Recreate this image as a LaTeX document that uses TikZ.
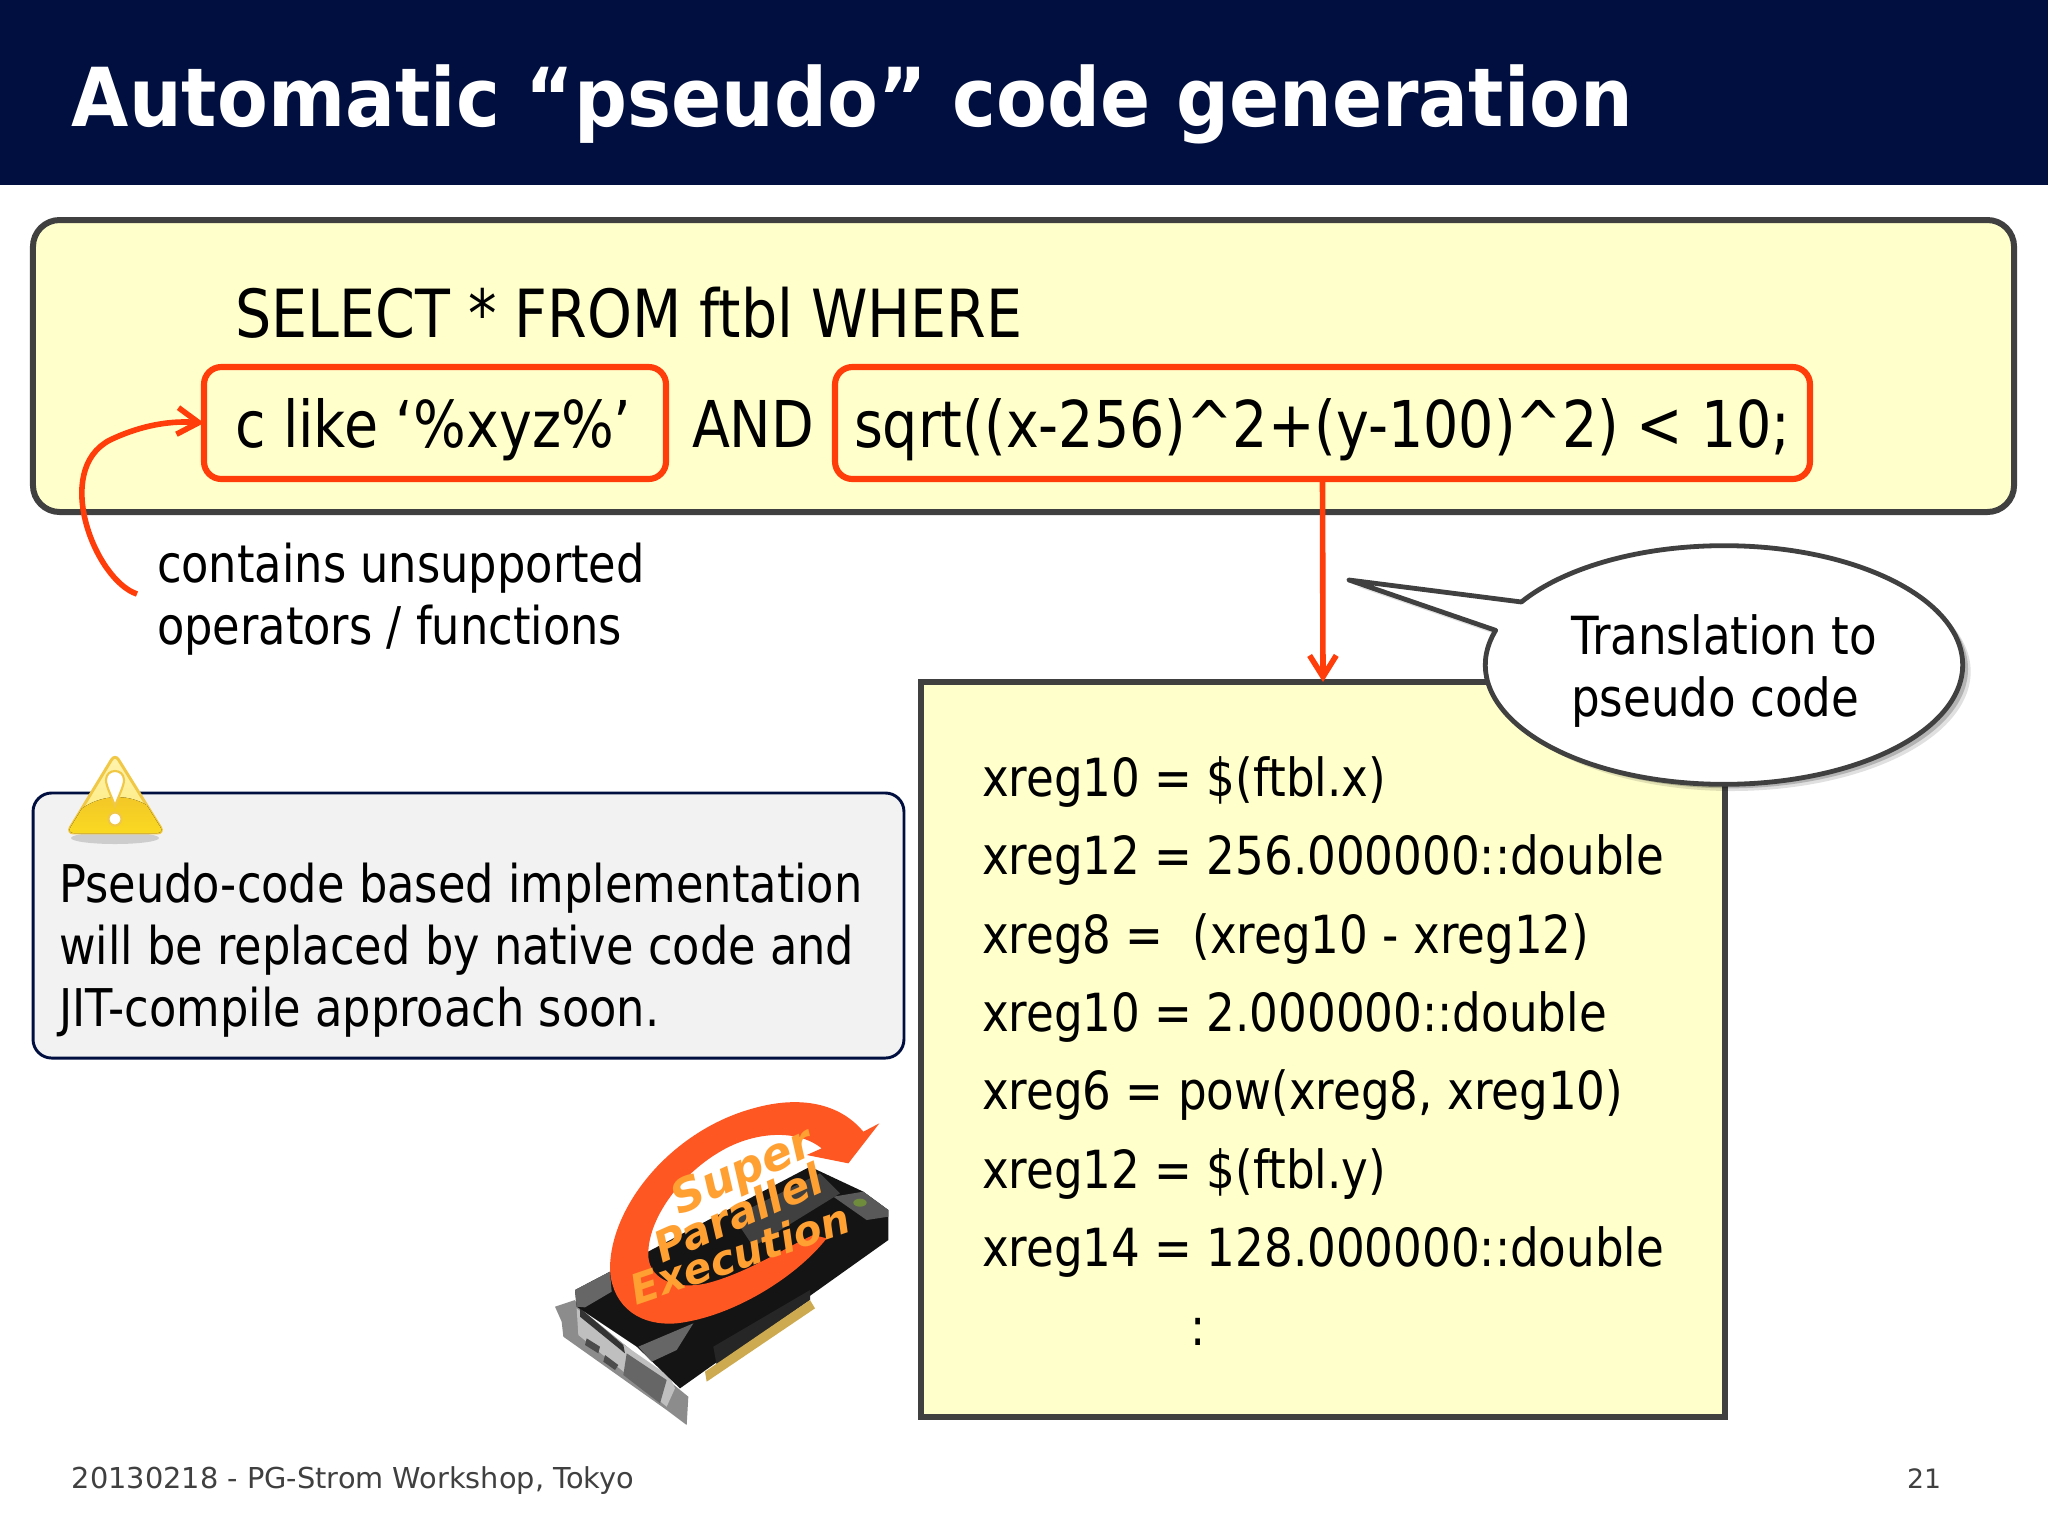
\documentclass[tikz,border=0pt]{standalone}
\usepackage{fontspec}
\setmainfont{DejaVu Sans}[FakeStretch=0.86]
\newfontfamily\widefont{DejaVu Sans}
\newfontfamily\titlefont{DejaVu Sans}[FakeStretch=0.91]
\usetikzlibrary{arrows.meta,shapes.callouts,shadows,calc}
\definecolor{navy}{HTML}{000F3F}
\definecolor{paper}{HTML}{FFFFCC}
\definecolor{edge}{HTML}{404040}
\definecolor{hot}{HTML}{FF3D0A}
\definecolor{swirl}{HTML}{FF5722}
\definecolor{swirltext}{HTML}{FFA033}
\definecolor{warnedge}{HTML}{F0C846}
\definecolor{warntop}{HTML}{FFF3B0}
\definecolor{warnbot}{HTML}{FBDD20}
\definecolor{warnmid}{HTML}{F0C02A}
\definecolor{gold}{HTML}{CDAA50}
\definecolor{logo}{HTML}{6E8C3C}
\newcommand{\fs}[2]{\fontsize{#1}{#2}\selectfont}
\tikzset{
  txt/.style={inner sep=0pt,outer sep=0pt,anchor=base west,align=left,text=black},
  sqltxt/.style={txt,font=\fs{24.2}{29}},
  midtxt/.style={txt,font=\fs{19.5}{23.1}},
  codetxt/.style={txt,font=\fs{19.7}{29.4}},
  hotbox/.style={draw=hot,line width=2.3pt,rounded corners=6.5pt,inner sep=0pt,outer sep=0pt,minimum height=42pt},
  hotline/.style={draw=hot,line width=2.1pt,-{Straight Barb[length=8pt,width=10pt,line width=2.1pt]}},
  gputxt/.style={inner sep=0pt,text=swirltext}
}
\begin{document}
\begin{tikzpicture}[x=0.375pt,y=-0.375pt]
\useasboundingbox (0,0) rectangle (2048,1536);
\fill[white] (0,0) rectangle (2048,1536);
% header
\fill[navy] (0,0) rectangle (2048,185);
\node[txt,text=white,font=\titlefont\bfseries\fs{30.5}{38}] (title) at (72,126) {Automatic “pseudo” code generation};
% SQL box
\node[draw=edge,fill=paper,line width=2.25pt,rounded corners=10pt,minimum width=742.9pt,minimum height=109.5pt,inner sep=0pt,outer sep=0pt] (sqlbox) at (1023.5,366) {};
\node[sqltxt,font=\fs{24.9}{29}] (sqlhead) at (235,337) {SELECT * FROM ftbl WHERE};
\node[hotbox,minimum width=173.25pt] (cbox) at (435,423) {};
\node[hotbox,minimum width=365.6pt] (exprbox) at (1322.5,423) {};
\node[sqltxt] (ctext) at (235,447) {c like ‘\%xyz\%’};
\node[sqltxt] (andtext) at (692,447) {AND};
\node[sqltxt] (exprtext) at (854,447) {sqrt((x-256)\string^2+(y-100)\string^2) < 10;};
% unsupported note
\node[midtxt] (unsup) at (157,644) {contains unsupported\\operators / functions};
\coordinate (unsupstart) at (137,594);
\draw[hotline] (unsupstart) .. controls (95,580) and (52,470) .. (110,440) .. controls (135,428) and (165,420) .. (cbox.west);
% code box
\node[draw=edge,fill=paper,line width=2.25pt,minimum width=301.5pt,minimum height=275.6pt,inner sep=0pt,outer sep=0pt] (codebox) at (1323,1049.5) {};
\draw[hotline] (exprbox.south) -- (codebox.north);
\node[codetxt] (code) at (982,1345) {xreg10 = \$(ftbl.x)\\xreg12 = 256.000000::double\\xreg8 = \ (xreg10 - xreg12)\\xreg10 = 2.000000::double\\xreg6 = pow(xreg8, xreg10)\\xreg12 = \$(ftbl.y)\\xreg14 = 128.000000::double\\\hspace*{78pt}:};
% callout
\node[ellipse callout,draw=edge,fill=white,line width=1.8pt,line join=round,minimum width=179pt,minimum height=89.5pt,inner sep=0pt,outer sep=0pt,
  callout absolute pointer={(1349,580)},callout pointer arc=15,
  general shadow={shadow xshift=3pt,shadow yshift=-2.5pt,fill=black,opacity=.12},
  general shadow={shadow xshift=2pt,shadow yshift=-1.5pt,fill=black,opacity=.2}] (callout) at (1724,665) {};
\node[midtxt,font=\fs{19.7}{23.1}] (callouttext) at (1571,716) {Translation to\\pseudo code};
% warning note
\node[draw=navy,fill=black!5,line width=1.1pt,rounded corners=7pt,minimum width=326.6pt,minimum height=99.4pt,inner sep=0pt,outer sep=0pt] (notebox) at (468.5,925.5) {};
\node[midtxt] (notetext) at (59,1026) {Pseudo-code based implementation\\will be replaced by native code and\\JIT-compile approach soon.};
% warning icon
\fill[black,opacity=.15] (115,838) ellipse (44 and 6);
\draw[draw=warnedge,line width=1.1pt,rounded corners=2.5pt,top color=warntop,bottom color=warntop!60!warnbot] (115,754) -- (164,833) -- (67,833) -- cycle;
\begin{scope}
\clip[rounded corners=2.5pt] (115,754) -- (164,833) -- (67,833) -- cycle;
\fill[top color=warnmid,bottom color=warnbot] (66,826) .. controls (80,800) and (125,782) .. (160,815) -- (170,840) -- (60,840) -- cycle;
\end{scope}
\filldraw[fill=white,draw=warnedge,line width=.8pt] (115,806) .. controls (111,795) and (106,786) .. (106,780) .. controls (106,768) and (124,768) .. (124,780) .. controls (124,786) and (119,795) .. (115,806) -- cycle;
\filldraw[fill=white,draw=warnedge,line width=.8pt] (115,819) circle (6.5);
% GPU picture
\begin{scope}[shift={(520,1060)},x=0.125pt,y=-0.125pt]
\fill[black!45] (105,740) -- (165,720) -- (180,745) -- (505,1010) -- (500,1095) -- (440,1050) -- (130,830) -- (125,785) -- cycle;
\fill[black!25] (170,745) -- (320,860) -- (450,950) -- (465,985) -- (440,1040) -- (175,825) -- cycle;
\fill[black!70] (200,835) -- (240,860) -- (235,880) -- (195,855) -- cycle;
\fill[black!70] (255,885) -- (295,915) -- (285,930) -- (250,905) -- cycle;
\fill[black!60] (320,880) -- (440,960) -- (420,1030) -- (310,945) -- cycle;
\fill[black!80] (180,745) -- (310,855) -- (315,880) -- (180,770) -- cycle;
\fill[black!92] (165,690) -- (870,320) -- (1030,395) -- (1105,450) -- (1105,540) -- (480,985) -- (350,860) -- (170,740) -- cycle;
\fill[black!60] (165,690) -- (270,635) -- (275,695) -- (195,742) -- (170,740) -- cycle;
\fill[black!60] (355,860) -- (520,790) -- (470,870) -- (395,905) -- cycle;
\fill[black!65] (940,410) -- (1030,395) -- (1105,450) -- (1105,470) -- (1040,480) -- cycle;
\fill[black!75] (640,470) -- (900,340) -- (960,400) -- (700,560) -- cycle;
\fill[black!85] (580,860) -- (870,690) -- (870,720) -- (590,915) -- cycle;
\fill[gold] (555,935) -- (870,720) -- (885,745) -- (560,965) -- cycle;
\fill[logo] (1020,428) ellipse (20 and 12);
\fill[swirl] (1078,190) -- (985,310) -- (860,285) -- (905,265) .. controls (830,205) and (700,215) .. (600,275) .. controls (480,345) and (380,480) .. (385,590) .. controls (390,660) and (470,690) .. (560,670) .. controls (680,640) and (800,560) .. (880,525) -- (920,535) .. controls (830,650) and (640,770) .. (470,790) .. controls (340,800) and (270,720) .. (270,620) .. controls (275,430) and (460,210) .. (700,145) .. controls (840,105) and (960,130) .. (1030,215) -- cycle;
\node[gputxt,rotate=24,font=\widefont\bfseries\itshape\fs{17}{20}] (super) at (670,340) {Super};
\node[gputxt,rotate=24,font=\widefont\bfseries\itshape\fs{16}{20}] (parallel) at (655,458) {Parallel};
\node[gputxt,rotate=19,font=\widefont\bfseries\itshape\fs{15.5}{20}] (execution) at (660,580) {Execution};
\end{scope}
% footer
\node[txt,text=edge,font=\widefont\fs{10.8}{12}] (foot) at (72,1488) {20130218 - PG-Strom Workshop, Tokyo};
\node[txt,text=edge,anchor=base east,font=\widefont\fs{10}{12}] (page) at (1941,1488) {21};
\end{tikzpicture}
\end{document}
